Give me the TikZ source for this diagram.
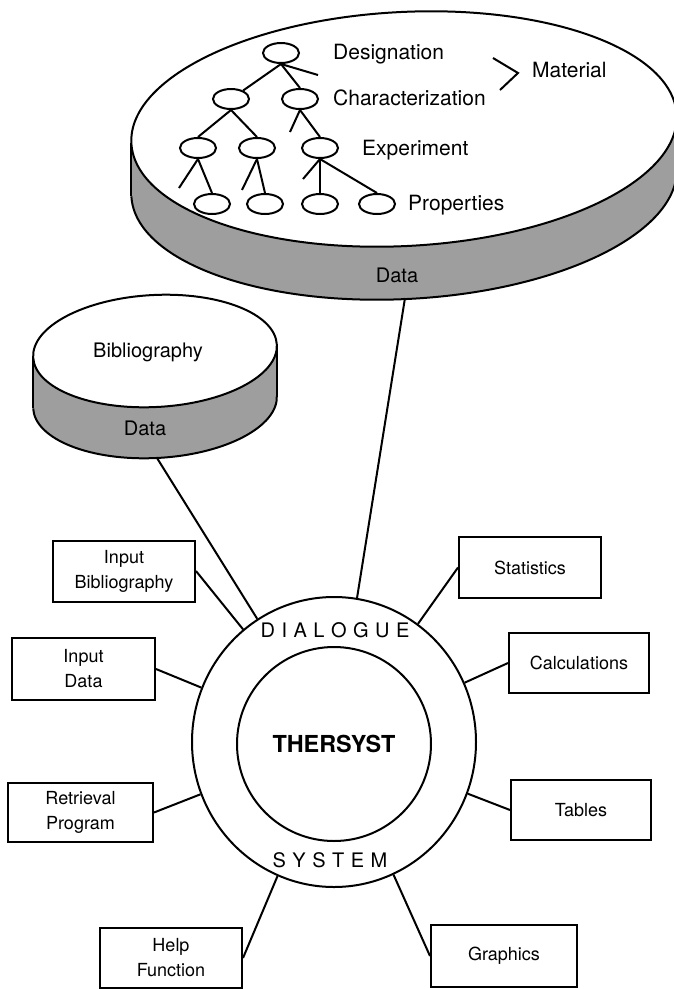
\documentclass[tikz,border=0pt]{standalone}
\usepackage{fontspec}
\setmainfont{TeX Gyre Heros}
\usetikzlibrary{shapes.geometric}
\tikzset{
  outline/.style={line width=2pt},
  bandfill/.style={fill=black!38},
  boxnode/.style={draw, line width=2pt, minimum width=142pt, minimum height=61pt, inner sep=0pt, align=center, font=\fontsize{18}{25}\selectfont},
  conn/.style={line width=2pt},
  leaf/.style={draw, ellipse, line width=2pt, minimum width=36pt, minimum height=20pt, inner sep=0pt},
  treelbl/.style={font=\fontsize{21}{25}\selectfont, inner sep=0pt, anchor=base west},
  disklbl/.style={font=\fontsize{20}{24}\selectfont, inner sep=0pt},
  ringlbl/.style={font=\fontsize{20}{24}\selectfont, inner sep=0pt},
}
\newcommand\diskdraw[7]{% #1 prefix, #2 cx, #3 cy, #4 rx, #5 ry, #6 rot, #7 depth
  \begin{scope}[shift={(#2,#3)}, rotate=#6]
    \coordinate (#1tl) at (-#4,0);
    \coordinate (#1tr) at (#4,0);
  \end{scope}
  \begin{scope}[shift={(#2,#3+#7)}, rotate=#6]
    \coordinate (#1bl) at (-#4,0);
    \coordinate (#1br) at (#4,0);
    \fill[bandfill] (0,0) ellipse[x radius=#4, y radius=#5];
  \end{scope}
  \fill[bandfill] (#1tl) -- (#1tr) -- (#1br) -- (#1bl) -- cycle;
  \begin{scope}[shift={(#2,#3+#7)}, rotate=#6]
    \draw[outline] (#4,0) arc[start angle=0, end angle=180, x radius=#4, y radius=#5];
  \end{scope}
  \draw[outline] (#1tl) -- (#1bl) (#1tr) -- (#1br);
  \begin{scope}[shift={(#2,#3)}, rotate=#6]
    \filldraw[outline, fill=white] (0,0) ellipse[x radius=#4, y radius=#5];
  \end{scope}
}
\begin{document}
\begin{tikzpicture}[x=1pt,y=-1pt]
\useasboundingbox (0,0) rectangle (674,989);

% ---------- material data disk ----------
\diskdraw{T}{404}{129}{273}{117}{3}{53}
\node[disklbl] (tdata) at (397,275) {Data};

% tree
\node[leaf] (r) at (281,53) {};
\node[leaf] (a1) at (231,99) {};
\node[leaf] (a2) at (300,99) {};
\node[leaf] (b1) at (198,148) {};
\node[leaf] (b2) at (257,148) {};
\node[leaf] (b3) at (320,148) {};
\node[leaf] (c1) at (212,204) {};
\node[leaf] (c2) at (265,204) {};
\node[leaf] (c3) at (320,204) {};
\node[leaf] (c4) at (377,204) {};
\coordinate (s0) at (318,75);
\coordinate (s1) at (290,132);
\coordinate (s2) at (179,188);
\coordinate (s3) at (242,190);
\coordinate (s4) at (303,179);
\draw[conn] (r.south) -- (a1);
\draw[conn] (r.south) -- (a2.north);
\draw[conn] (r.south) -- (s0);
\draw[conn] (a1.south) -- (b1.north);
\draw[conn] (a1.south) -- (b2.north);
\draw[conn] (a2.south) -- (s1);
\draw[conn] (a2.south) -- (b3.north);
\draw[conn] (b1.south) -- (s2);
\draw[conn] (b1.south) -- (c1.north);
\draw[conn] (b2.south) -- (s3);
\draw[conn] (b2.south) -- (c2.north);
\draw[conn] (b3.south) -- (s4);
\draw[conn] (b3.south) -- (c3.north);
\draw[conn] (b3.south) -- (c4.north);

\node[treelbl] (desig) at (333,59.5) {Designation};
\node[treelbl] (charac) at (333,105.5) {Characterization};
\node[treelbl] (exper) at (362,155.5) {Experiment};
\node[treelbl] (props) at (408,210.5) {Properties};
\node[treelbl] (mater) at (532,77.5) {Material};
\draw[conn, line join=miter] (493,58) -- (518,73) -- (500,90);

% ---------- bibliography disk ----------
\diskdraw{B}{155}{351}{122}{56}{3}{51}
\node[disklbl] (bib) at (148,352) {Bibliography};
\node[disklbl] (bdata) at (145,428) {Data};

% ---------- dialogue system ----------
\node[draw, ellipse, line width=2pt, minimum width=284pt, minimum height=290pt, inner sep=0pt] (dlg) at (334,742) {};
\node[draw, circle, line width=2pt, minimum size=194pt, inner sep=0pt, font=\bfseries\fontsize{23.4}{28}\selectfont] (thr) at (334,744) {THERSYST};
\node[ringlbl] (dia) at (335,630) {D\kern6.5pt I\kern6.5pt A\kern6.5pt L\kern6.5pt O\kern6.5pt G\kern6.5pt U\kern6.5pt E};
\node[ringlbl] (sys) at (330,860) {S\kern6.5pt Y\kern6.5pt S\kern6.5pt T\kern6.5pt E\kern6.5pt M};

% ---------- boxes ----------
\node[boxnode] (ib) at (124,571) {Input\\Bibliography};
\node[boxnode, minimum width=143pt, minimum height=62pt] (id) at (83.5,669) {Input\\Data};
\node[boxnode, minimum width=145pt, minimum height=59pt] (rp) at (80.5,812.5) {Retrieval\\Program};
\node[boxnode, minimum height=60pt] (hf) at (171,958) {Help\\Function};
\node[boxnode] (st) at (530,567.5) {Statistics};
\node[boxnode, minimum width=140pt, minimum height=60pt] (ca) at (579,663) {Calculations};
\node[boxnode, minimum width=140pt, minimum height=60pt] (ta) at (581,810) {Tables};
\node[boxnode, minimum width=146pt, minimum height=62pt] (gr) at (504,956) {Graphics};

% ---------- connectors ----------
\coordinate (tdb) at (405,298);
\coordinate (bdb) at (157,458);
\draw[conn] (tdb) -- (dlg);
\draw[conn] (bdb) -- (dlg);
\draw[conn] (ib.east) -- (dlg);
\draw[conn] (id.east) -- (dlg);
\draw[conn] (rp.east) -- (dlg);
\draw[conn] (hf.east) -- (dlg);
\draw[conn] (st.west) -- (dlg);
\draw[conn] (ca.west) -- (dlg);
\draw[conn] (ta.west) -- (dlg);
\draw[conn] (gr.west) -- (dlg);
\end{tikzpicture}
\end{document}
